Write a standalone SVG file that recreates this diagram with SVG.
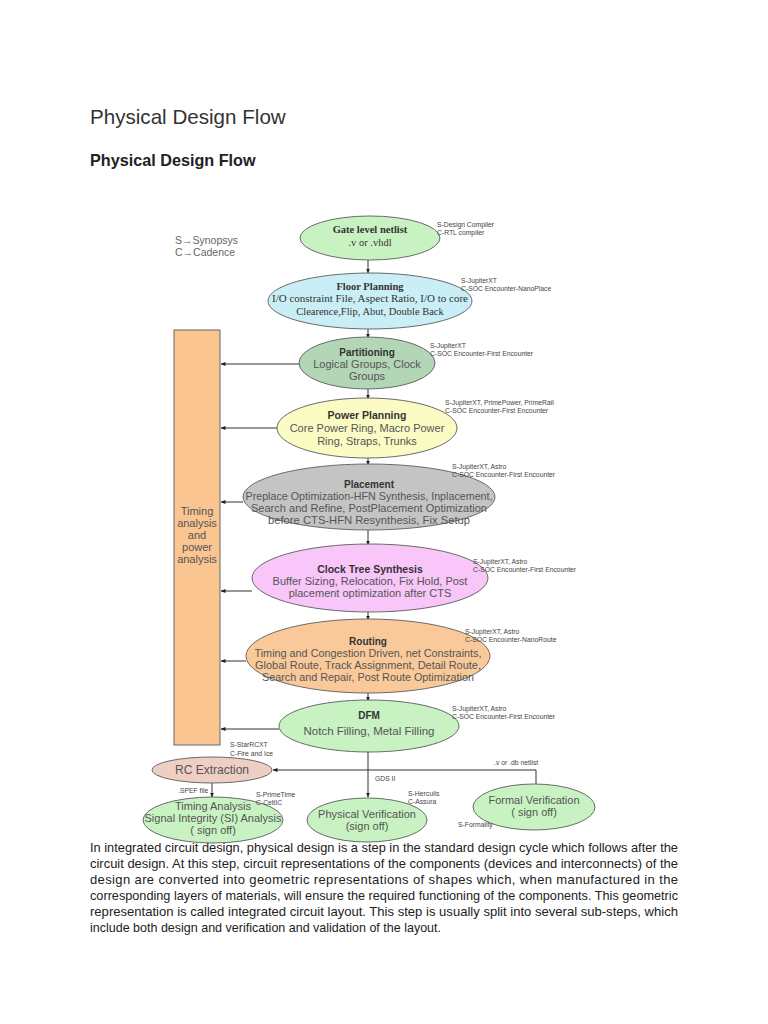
<svg xmlns="http://www.w3.org/2000/svg" width="768" height="1024" viewBox="0 0 768 1024">
<defs>
<marker id="ah" viewBox="0 0 10 10" refX="9" refY="5" markerWidth="5" markerHeight="5" orient="auto"><path d="M0,1 L10,5 L0,9 z" fill="#222"/></marker>
<style>
.ell{stroke:#6a6a6a;stroke-width:1}
.t{font-family:"Liberation Sans",Arial,sans-serif;fill:#555;text-anchor:middle}
.tb{font-family:"Liberation Sans",Arial,sans-serif;fill:#333;font-weight:bold;text-anchor:middle}
.ts{font-family:"Liberation Serif","Times New Roman",serif;fill:#333;text-anchor:middle}
.an{font-family:"Liberation Sans",Arial,sans-serif;fill:#444;font-size:6.8px}
.ln{stroke:#333;stroke-width:1;fill:none}
.body{font-family:"Liberation Sans Narrow","Liberation Sans",Arial,sans-serif;fill:#222;font-size:13px}
</style>
</defs>
<rect width="768" height="1024" fill="#fff"/>
<text x="90" y="124" font-family="Liberation Sans,Arial,sans-serif" font-size="20.6" fill="#333">Physical Design Flow</text>
<text x="90" y="166" font-family="Liberation Sans,Arial,sans-serif" font-size="16.2" font-weight="bold" fill="#222">Physical Design Flow</text>

<g id="legend">
<text x="175" y="244" font-family="Liberation Sans,Arial,sans-serif" font-size="10.5" fill="#666">S→Synopsys</text>
<text x="175" y="256" font-family="Liberation Sans,Arial,sans-serif" font-size="10.5" fill="#666">C→Cadence</text>
</g>

<g id="connectors">
<line class="ln" x1="368" y1="260" x2="368" y2="273" marker-end="url(#ah)"/>
<line class="ln" x1="368" y1="329" x2="368" y2="338" marker-end="url(#ah)"/>
<line class="ln" x1="368" y1="389" x2="368" y2="399" marker-end="url(#ah)"/>
<line class="ln" x1="368" y1="458" x2="368" y2="465" marker-end="url(#ah)"/>
<line class="ln" x1="368" y1="530" x2="368" y2="545" marker-end="url(#ah)"/>
<line class="ln" x1="368" y1="612" x2="368" y2="620" marker-end="url(#ah)"/>
<line class="ln" x1="368" y1="693" x2="368" y2="701" marker-end="url(#ah)"/>
<line class="ln" x1="368" y1="752" x2="368" y2="797" marker-end="url(#ah)"/>
<line class="ln" x1="299" y1="364" x2="221" y2="364" marker-end="url(#ah)"/>
<line class="ln" x1="277" y1="428" x2="221" y2="428" marker-end="url(#ah)"/>
<line class="ln" x1="243" y1="502" x2="221" y2="502" marker-end="url(#ah)"/>
<line class="ln" x1="252" y1="591" x2="221" y2="591" marker-end="url(#ah)"/>
<line class="ln" x1="246" y1="661" x2="221" y2="661" marker-end="url(#ah)"/>
<line class="ln" x1="279" y1="729" x2="221" y2="729" marker-end="url(#ah)"/>
<polyline class="ln" points="536,784 536,770 273,770" marker-end="url(#ah)"/>
<line class="ln" x1="212" y1="782" x2="212" y2="797" marker-end="url(#ah)"/>
</g>

<g id="timing-bar">
<rect x="174" y="330" width="46" height="415" fill="#fac591" stroke="#666" stroke-width="1"/>
<text class="t" font-size="11" x="197" y="515">Timing</text>
<text class="t" font-size="11" x="197" y="527">analysis</text>
<text class="t" font-size="11" x="197" y="539">and</text>
<text class="t" font-size="11" x="197" y="551">power</text>
<text class="t" font-size="11" x="197" y="563">analysis</text>
</g>

<g id="netlist">
<ellipse class="ell" cx="370" cy="238" rx="70" ry="22" fill="#c8f2c2"/>
<text class="ts" font-size="10.5" font-weight="bold" x="370" y="233">Gate level netlist</text>
<text class="ts" font-size="10.5" x="370" y="246">.v or .vhdl</text>
<text class="an" x="437" y="227">S-Design Compiler</text>
<text class="an" x="437" y="235">C-RTL compiler</text>
</g>

<g id="floorplan">
<ellipse class="ell" cx="370" cy="301" rx="102" ry="28" fill="#c9eef5"/>
<text class="ts" font-size="10.5" font-weight="bold" x="370" y="290">Floor Planning</text>
<text class="ts" font-size="10.5" x="370" y="302" textLength="196" lengthAdjust="spacingAndGlyphs">I/O constraint File, Aspect Ratio, I/O to core</text>
<text class="ts" font-size="10.5" x="370" y="315">Clearence,Flip, Abut, Double Back</text>
<text class="an" x="461" y="283">S-JupiterXT</text>
<text class="an" x="461" y="291">C-SOC Encounter-NanoPlace</text>
</g>

<g id="partitioning">
<ellipse class="ell" cx="367" cy="363" rx="68" ry="26" fill="#b2d6b6"/>
<text class="tb" font-size="10" x="367" y="356">Partitioning</text>
<text class="t" font-size="11" x="367" y="368">Logical Groups, Clock</text>
<text class="t" font-size="11" x="367" y="380">Groups</text>
<text class="an" x="430" y="348">S-JupiterXT</text>
<text class="an" x="430" y="356">C-SOC Encounter-First Encounter</text>
</g>

<g id="power">
<ellipse class="ell" cx="367" cy="428" rx="90" ry="30" fill="#fbfbc4"/>
<text class="tb" font-size="10.5" x="367" y="419">Power Planning</text>
<text class="t" font-size="11" x="367" y="432">Core Power Ring, Macro Power</text>
<text class="t" font-size="11" x="367" y="445">Ring, Straps, Trunks</text>
<text class="an" x="445" y="405">S-JupiterXT, PrimePower, PrimeRail</text>
<text class="an" x="445" y="413">C-SOC Encounter-First Encounter</text>
</g>

<g id="placement">
<ellipse class="ell" cx="369" cy="497" rx="126" ry="33" fill="#c4c4c4"/>
<text class="tb" font-size="10" x="369" y="488">Placement</text>
<text class="t" font-size="11" x="369" y="500" textLength="247" lengthAdjust="spacingAndGlyphs">Preplace Optimization-HFN Synthesis, Inplacement,</text>
<text class="t" font-size="11" x="369" y="512" textLength="236" lengthAdjust="spacingAndGlyphs">Search and Refine, PostPlacement Optimization</text>
<text class="t" font-size="11" x="369" y="524" textLength="202" lengthAdjust="spacingAndGlyphs">before CTS-HFN Resynthesis, Fix Setup</text>
<text class="an" x="452" y="469">S-JupiterXT, Astro</text>
<text class="an" x="452" y="477">C-SOC Encounter-First Encounter</text>
</g>

<g id="cts">
<ellipse class="ell" cx="370" cy="578" rx="118" ry="34" fill="#f8c6f8"/>
<text class="tb" font-size="10.5" x="370" y="573">Clock Tree Synthesis</text>
<text class="t" font-size="11" x="370" y="585">Buffer Sizing, Relocation, Fix Hold, Post</text>
<text class="t" font-size="11" x="370" y="597">placement optimization after CTS</text>
<text class="an" x="473" y="564">S-JupiterXT, Astro</text>
<text class="an" x="473" y="572">C-SOC Encounter-First Encounter</text>
</g>

<g id="routing">
<ellipse class="ell" cx="368" cy="656" rx="122" ry="37" fill="#f9c99a"/>
<text class="tb" font-size="10" x="368" y="645">Routing</text>
<text class="t" font-size="11" x="368" y="657" textLength="227" lengthAdjust="spacingAndGlyphs">Timing and Congestion Driven, net Constraints,</text>
<text class="t" font-size="11" x="368" y="669" textLength="226" lengthAdjust="spacingAndGlyphs">Global Route, Track Assignment,  Detail Route,</text>
<text class="t" font-size="11" x="368" y="681" textLength="212" lengthAdjust="spacingAndGlyphs">Search and Repair, Post Route Optimization</text>
<text class="an" x="465" y="634">S-JupiterXT, Astro</text>
<text class="an" x="465" y="642">C-SOC Encounter-NanoRoute</text>
</g>

<g id="dfm">
<ellipse class="ell" cx="369" cy="726" rx="90" ry="26" fill="#c8f2c2"/>
<text class="tb" font-size="10" x="369" y="719">DFM</text>
<text class="t" font-size="11.5" x="369" y="735">Notch Filling, Metal Filling</text>
<text class="an" x="452" y="711">S-JupiterXT, Astro</text>
<text class="an" x="452" y="719">C-SOC Encounter-First Encounter</text>
</g>

<g id="rc-extraction">
<ellipse class="ell" cx="212" cy="770" rx="60" ry="13" fill="#efcfc3"/>
<text class="t" font-size="12" x="212" y="774">RC Extraction</text>
<text class="an" x="230" y="747">S-StarRCXT</text>
<text class="an" x="230" y="756">C-Fire and Ice</text>
<text class="an" x="178" y="793">.SPEF file</text>
</g>

<g id="timing-analysis">
<ellipse class="ell" cx="213" cy="820" rx="70" ry="23" fill="#c8f2c2"/>
<text class="t" font-size="11" x="213" y="810">Timing Analysis</text>
<text class="t" font-size="11" x="213" y="822">Signal Integrity (SI) Analysis</text>
<text class="t" font-size="11" x="213" y="834">( sign off)</text>
<text class="an" x="256" y="797">S-PrimeTime</text>
<text class="an" x="256" y="805">C-CeltIC</text>
</g>

<g id="physical-verification">
<ellipse class="ell" cx="367" cy="820" rx="60" ry="22" fill="#c8f2c2"/>
<text class="t" font-size="11" x="367" y="818">Physical Verification</text>
<text class="t" font-size="11" x="367" y="830">(sign off)</text>
<text class="an" x="375" y="781">GDS II</text>
<text class="an" x="408" y="796">S-Herculis</text>
<text class="an" x="408" y="804">C-Assura</text>
</g>

<g id="formal-verification">
<ellipse class="ell" cx="534" cy="807" rx="61" ry="23" fill="#c8f2c2"/>
<text class="t" font-size="11" x="534" y="804">Formal Verification</text>
<text class="t" font-size="11" x="534" y="816">( sign off)</text>
<text class="an" x="494" y="765">.v or .db netlist</text>
<text class="an" x="458" y="827">S-Formality</text>
</g>

<g id="paragraph">
<text class="body" x="90" y="852" textLength="588" lengthAdjust="spacingAndGlyphs">In integrated circuit design, physical design is a step in the standard design cycle which follows after the</text>
<text class="body" x="90" y="868" textLength="588" lengthAdjust="spacingAndGlyphs">circuit design. At this step, circuit representations of the components (devices and interconnects) of the</text>
<text class="body" x="90" y="884" textLength="588" lengthAdjust="spacing">design are converted into geometric representations of shapes which, when manufactured in the</text>
<text class="body" x="90" y="900" textLength="588" lengthAdjust="spacingAndGlyphs">corresponding layers of materials, will ensure the required functioning of the components. This geometric</text>
<text class="body" x="90" y="916" textLength="588" lengthAdjust="spacingAndGlyphs">representation is called integrated circuit layout. This step is usually split into several sub-steps, which</text>
<text class="body" x="90" y="932" textLength="351" lengthAdjust="spacingAndGlyphs">include both design and verification and validation of the layout.</text>
</g>
</svg>
